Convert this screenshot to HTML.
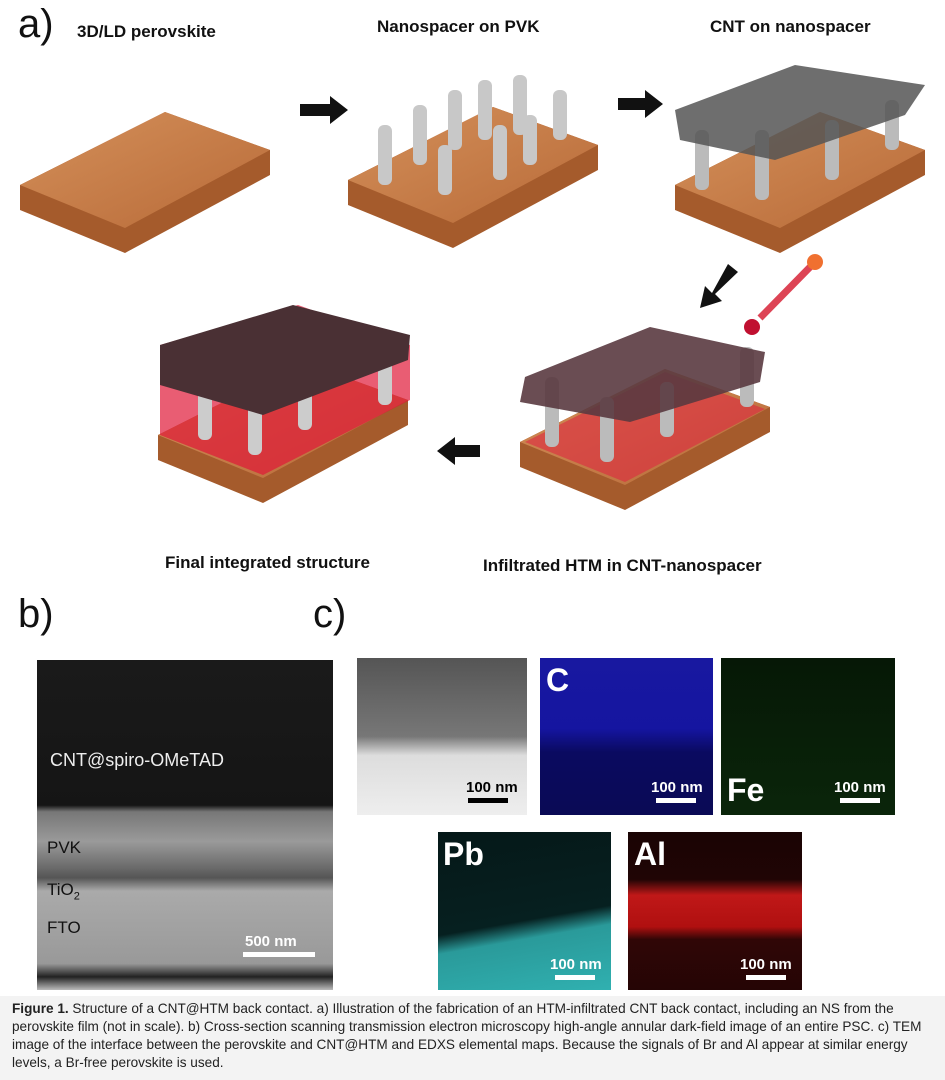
<!DOCTYPE html>
<html><head><meta charset="utf-8"><style>
body{margin:0;width:945px;height:1080px;background:#fff;position:relative;overflow:hidden;font-family:"Liberation Sans",sans-serif}
.a{position:absolute}
.lbl{position:absolute;font-weight:bold;font-size:17px;color:#111;white-space:nowrap}
.big{position:absolute;font-size:40px;color:#111}
.cap{position:absolute;left:0;top:996px;width:945px;height:84px;background:#f3f3f3;font-family:"Liberation Sans Narrow","Liberation Sans",sans-serif;font-size:13.6px;line-height:18px;color:#222;padding:4px 12px;box-sizing:border-box}
.sb{position:absolute;background:#fff;height:5px}
.st{position:absolute;color:#fff;font-weight:bold;font-size:15px}
</style></head><body>
<div class="big" style="left:18px;top:2px">a)</div>
<div class="lbl" style="left:77px;top:22px">3D/LD perovskite</div>
<div class="lbl" style="left:377px;top:17px">Nanospacer on PVK</div>
<div class="lbl" style="left:710px;top:17px">CNT on nanospacer</div>
<svg class="a" style="left:0;top:0" width="945" height="590">
<defs><linearGradient id="o" x1="0" y1="0" x2="1" y2="1"><stop offset="0" stop-color="#d4905a"/><stop offset="1" stop-color="#b86a38"/></linearGradient></defs>
<g>
<polygon points="20,185 165,112 270,150 270,175 125,253 20,210" fill="#a55b2c"/>
<polygon points="20,185 165,112 270,150 125,228" fill="url(#o)"/>
</g>
<g transform="translate(328,-5)"><polygon points="20,185 165,112 270,150 270,175 125,253 20,210" fill="#a55b2c"/><polygon points="20,185 165,112 270,150 125,228" fill="url(#o)"/>
<g fill="#c8c8c8"><rect x="50" y="130" width="14" height="60" rx="6"/><rect x="85" y="110" width="14" height="60" rx="6"/><rect x="120" y="95" width="14" height="60" rx="6"/><rect x="150" y="85" width="14" height="60" rx="6"/><rect x="185" y="80" width="14" height="60" rx="6"/><rect x="225" y="95" width="14" height="50" rx="6"/><rect x="110" y="150" width="14" height="50" rx="6"/><rect x="165" y="130" width="14" height="55" rx="6"/><rect x="195" y="120" width="14" height="50" rx="6"/></g></g>
<g transform="translate(655,0)"><polygon points="20,185 165,112 270,150 270,175 125,253 20,210" fill="#a55b2c"/><polygon points="20,185 165,112 270,150 125,228" fill="url(#o)"/>
<g fill="#bbb"><rect x="40" y="130" width="14" height="60" rx="6"/><rect x="100" y="130" width="14" height="70" rx="6"/><rect x="170" y="120" width="14" height="60" rx="6"/><rect x="230" y="100" width="14" height="50" rx="6"/></g>
<polygon points="20,110 140,65 270,85 250,115 120,160 25,140" fill="#555" opacity="0.85"/></g>
<polygon points="300,104 330,104 330,96 348,110 330,124 330,116 300,116" fill="#111"/>
<polygon points="618,98 645,98 645,90 663,104 645,118 645,110 618,110" fill="#111"/>
<polygon points="728,264 738,272 715,294 722,301 700,308 705,286 712,293" fill="#111"/>
<line x1="815" y1="262" x2="760" y2="318" stroke="#d45" stroke-width="7"/><circle cx="815" cy="262" r="8" fill="#f07030"/><circle cx="752" cy="327" r="8" fill="#c01030"/>
<g transform="translate(500,257)"><polygon points="20,185 165,112 270,150 270,175 125,253 20,210" fill="#a55b2c"/><polygon points="20,185 165,112 270,150 125,228" fill="url(#o)"/>
<polygon points="25,185 165,115 265,152 125,225" fill="#e02040" opacity="0.55"/>
<g fill="#bbb"><rect x="45" y="120" width="14" height="70" rx="6"/><rect x="100" y="140" width="14" height="65" rx="6"/><rect x="160" y="125" width="14" height="55" rx="6"/><rect x="240" y="90" width="14" height="60" rx="6"/></g>
<polygon points="25,120 150,70 265,95 260,125 130,165 20,145" fill="#5a3a40" opacity="0.9"/></g>
<g transform="translate(138,250)"><polygon points="20,185 165,112 270,150 270,175 125,253 20,210" fill="#a55b2c"/><polygon points="20,185 165,112 270,150 125,228" fill="url(#o)"/>
<polygon points="22,95 160,55 272,95 272,150 125,225 22,185" fill="#e01838" opacity="0.7"/>
<g fill="#ccc"><rect x="60" y="120" width="14" height="70" rx="6"/><rect x="110" y="135" width="14" height="70" rx="6"/><rect x="160" y="120" width="14" height="60" rx="6"/><rect x="240" y="95" width="14" height="60" rx="6"/></g>
<polygon points="22,95 155,55 272,85 270,110 125,165 22,135" fill="#4a3034"/></g>
<polygon points="480,445 455,445 455,437 437,451 455,465 455,457 480,457" fill="#111"/>
</svg>
<div class="lbl" style="left:165px;top:553px">Final integrated structure</div>
<div class="lbl" style="left:483px;top:556px">Infiltrated HTM in CNT-nanospacer</div>
<div class="big" style="left:18px;top:592px">b)</div>
<div class="big" style="left:313px;top:592px">c)</div>
<div class="a" style="left:37px;top:660px;width:296px;height:330px;background:linear-gradient(#1a1a1a 0,#151515 44%,#777 46%,#9a9a9a 55%,#6a6a6a 63%,#555 66%,#aaa 70%,#999 92%,#222 96%,#bbb 100%)"></div>
<div class="a" style="left:50px;top:750px;color:#eee;font-size:18px">CNT@spiro-OMeTAD</div>
<div class="a" style="left:47px;top:838px;color:#111;font-size:17px">PVK</div>
<div class="a" style="left:47px;top:880px;color:#111;font-size:17px">TiO<sub style="font-size:11px">2</sub></div>
<div class="a" style="left:47px;top:918px;color:#111;font-size:17px">FTO</div>
<div class="sb" style="left:243px;top:952px;width:72px"></div><div class="st" style="left:245px;top:933px">500 nm</div>
<div class="a" style="left:357px;top:658px;width:170px;height:157px;background:linear-gradient(#555 0,#777 50%,#ddd 62%,#eee 100%)"></div>
<div class="sb" style="left:468px;top:798px;width:40px;background:#000"></div><div class="a" style="left:466px;top:779px;font-weight:bold;font-size:15px">100 nm</div>
<div class="a" style="left:540px;top:658px;width:173px;height:157px;background:linear-gradient(#1818a0 0,#1515a0 45%,#0a0a60 60%,#0a0a55 100%)"></div>
<div class="st" style="left:546px;top:662px;font-size:32px">C</div>
<div class="sb" style="left:656px;top:798px;width:40px"></div><div class="st" style="left:651px;top:779px">100 nm</div>
<div class="a" style="left:721px;top:658px;width:174px;height:157px;background:linear-gradient(#061806,#0a250a)"></div>
<div class="st" style="left:727px;top:772px;font-size:32px">Fe</div>
<div class="sb" style="left:840px;top:798px;width:40px"></div><div class="st" style="left:834px;top:779px">100 nm</div>
<div class="a" style="left:438px;top:832px;width:173px;height:158px;background:linear-gradient(170deg,#051818 0,#062020 55%,#2a9a9a 65%,#30b0b0 100%)"></div>
<div class="st" style="left:443px;top:836px;font-size:32px">Pb</div>
<div class="sb" style="left:555px;top:975px;width:40px"></div><div class="st" style="left:550px;top:956px">100 nm</div>
<div class="a" style="left:628px;top:832px;width:174px;height:158px;background:linear-gradient(#1a0404 0,#200505 30%,#c01818 40%,#b01010 60%,#300606 68%,#250505 100%)"></div>
<div class="st" style="left:634px;top:836px;font-size:32px">Al</div>
<div class="sb" style="left:746px;top:975px;width:40px"></div><div class="st" style="left:740px;top:956px">100 nm</div>
<div class="cap"><b>Figure 1.</b> Structure of a CNT@HTM back contact. a) Illustration of the fabrication of an HTM-infiltrated CNT back contact, including an NS from the perovskite film (not in scale). b) Cross-section scanning transmission electron microscopy high-angle annular dark-field image of an entire PSC. c) TEM image of the interface between the perovskite and CNT@HTM and EDXS elemental maps. Because the signals of Br and Al appear at similar energy levels, a Br-free perovskite is used.</div>
</body></html>
